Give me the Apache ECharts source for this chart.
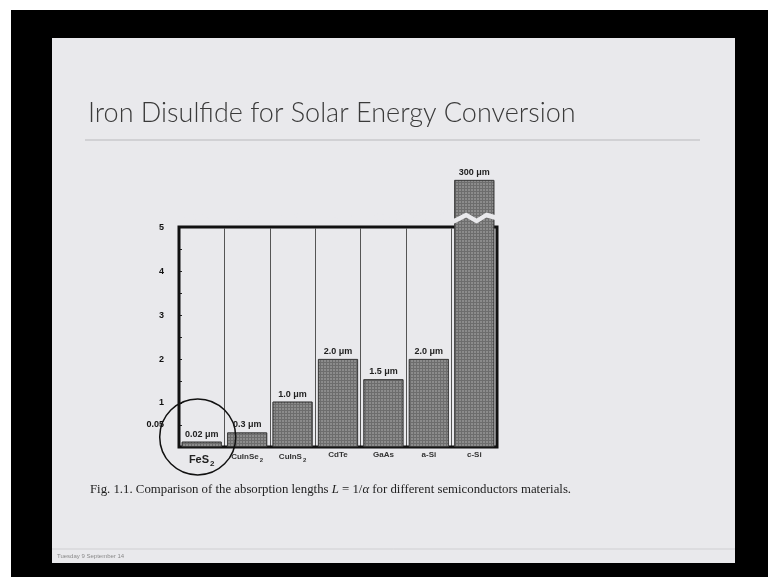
<!DOCTYPE html>
<html>
<head>
<meta charset="utf-8">
<script src="https://cdn.jsdelivr.net/npm/echarts@6/dist/echarts.min.js"></script>
<style>
  body { margin: 0; background: #fff; }
  #frame { position: absolute; left: 11px; top: 10px; width: 757px; height: 567px; background: #000; }
  #slide { position: absolute; left: 52px; top: 38px; width: 683px; height: 525px; background: #e9e9ec; }
  #chart { position: absolute; left: 0; top: 0; width: 768px; height: 577px; }
</style>
</head>
<body>
<div id="frame"></div>
<div id="slide"></div>
<div id="chart"></div>
<script>
const categories = ["FeS2", "CuInSe2", "CuInS2", "CdTe", "GaAs", "a-Si", "c-Si"];
const lengths = [0.12, 0.33, 1.03, 2.0, 1.54, 2.0, 300];
const lengthLabels = ["0.02 μm", "0.3 μm", "1.0 μm", "2.0 μm", "1.5 μm", "2.0 μm", "300 μm"];
const yTickValues = [0.5, 1, 2, 3, 4, 5];
const yTickTexts = ["0.05", "1", "2", "3", "4", "5"];
const yMinorTicks = [0.5, 1, 1.5, 2, 2.5, 3, 3.5, 4, 4.5, 5];
const frameTop = 5;
const circleAt = ["FeS2", 0.23];

const bg = "#e9e9ec";
const chart = echarts.init(document.getElementById("chart"));

function catLabel(name) {
    const m = name.match(/^(.*?)(2)$/);
    if (name === "FeS2") return "{big|FeS}{bigsub|2}";
    if (m) return "{n|" + m[1] + "}{sub|2}";
    return "{n|" + name + "}";
}

const option = {
    animation: false,
    title: {
        text: "Iron Disulfide for Solar Energy Conversion",
        left: 83,
        top: 95,
        textStyle: { fontFamily: "Lato", fontWeight: 300, fontSize: 27, color: "#3a3a3a" },
    },
    grid: { left: 179, right: 271, top: 180, bottom: 130 },
    xAxis: {
        type: "category",
        data: categories,
        axisLine: { show: false },
        axisTick: { show: false },
        splitLine: { show: true, interval: 0, lineStyle: { color: "#555", width: 1 } },
        axisLabel: {
            interval: 0,
            margin: 4,
            formatter: catLabel,
            rich: {
                n: { fontFamily: "Liberation Sans", fontWeight: "bold", fontSize: 8, color: "#333" },
                sub: { fontFamily: "Liberation Sans", fontWeight: "bold", fontSize: 6, color: "#333", padding: [6, 0, 0, 1] },
                big: { fontFamily: "Liberation Sans", fontWeight: "bold", fontSize: 11, color: "#222" },
                bigsub: { fontFamily: "Liberation Sans", fontWeight: "bold", fontSize: 8, color: "#222", padding: [9, 0, 0, 1] },
            },
        },
    },
    yAxis: {
        type: "value",
        min: 0,
        max: 300,
        breaks: [{ start: 5.15, end: 299.2, gap: 0.12 }],
        breakArea: {
            show: true,
            itemStyle: { color: bg, borderColor: bg, borderWidth: 0, opacity: 1 },
            zigzagAmplitude: 3,
            zigzagMinSpan: 8,
            zigzagMaxSpan: 12,
        },
        axisLine: { show: false },
        splitLine: { show: false },
        axisTick: { show: true, inside: true, length: 3, customValues: yMinorTicks, lineStyle: { color: "#222" } },
        axisLabel: {
            margin: 15,
            customValues: yTickValues,
            fontFamily: "Liberation Sans",
            fontWeight: "bold",
            fontSize: 9,
            color: "#111",
            formatter: function (v) {
                const i = yTickValues.findIndex(function (t) { return Math.abs(t - v) < 1e-6; });
                return i >= 0 ? yTickTexts[i] : "";
            },
        },
    },
    series: [
        {
            type: "line",
            data: [],
            z: 1,
            silent: true,
            markArea: {
                silent: true,
                data: [
                    [{ yAxis: frameTop, itemStyle: { color: bg, borderColor: bg, borderWidth: 3 } }, { yAxis: 300 }],
                    [{ yAxis: 0, itemStyle: { color: "rgba(0,0,0,0)", borderColor: "#111", borderWidth: 3 } }, { yAxis: frameTop }],
                ],
            },
        },
        {
            type: "bar",
            z: 3,
            data: lengths,
            barCategoryGap: "12%",
            itemStyle: {
                color: "#6d6d6d",
                borderColor: "#3a3a3a",
                borderWidth: 0.8,
                decal: {
                    symbol: "rect",
                    symbolSize: 0.8,
                    color: "rgba(225,225,225,0.45)",
                    dashArrayX: [2, 1],
                    dashArrayY: [2, 1],
                },
            },
            label: {
                show: true,
                position: "top",
                distance: 3,
                fontFamily: "Liberation Sans",
                fontWeight: "bold",
                fontSize: 9,
                color: "#222",
                formatter: function (p) { return lengthLabels[p.dataIndex]; },
            },
            markPoint: {
                silent: true,
                symbol: "circle",
                symbolSize: 76,
                symbolOffset: [-4, 0],
                itemStyle: { color: "rgba(0,0,0,0)", borderColor: "#111", borderWidth: 1.5 },
                label: { show: false },
                data: [{ coord: circleAt }],
            },
        },
    ],
    graphic: [
        {
            type: "line",
            shape: { x1: 85, y1: 140, x2: 700, y2: 140 },
            style: { stroke: "#c9c9cc", lineWidth: 1.5 },
        },
        {
            type: "text",
            left: 90,
            top: 483,
            style: {
                text: "Fig. 1.1. Comparison of the absorption lengths {i|L} = 1/{i|α} for different semiconductors materials.",
                fontFamily: "Liberation Serif",
                fontSize: 12.8,
                fill: "#222",
                rich: { i: { fontFamily: "Liberation Serif", fontStyle: "italic", fontSize: 12.8, fill: "#222" } },
            },
        },
        {
            type: "line",
            shape: { x1: 52, y1: 549, x2: 735, y2: 549 },
            style: { stroke: "#cfcfd2", lineWidth: 1 },
        },
        {
            type: "text",
            left: 57,
            top: 553,
            style: { text: "Tuesday 9 September 14", fontFamily: "Liberation Sans", fontSize: 6, fill: "#8a8a8a" },
        },
    ],
};

chart.setOption(option);
</script>
</body>
</html>
